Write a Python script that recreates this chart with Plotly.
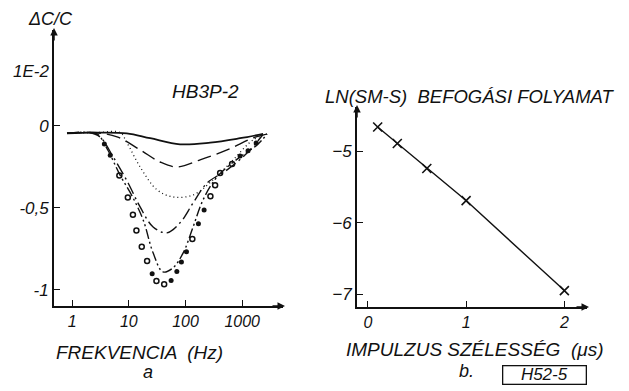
import plotly.graph_objects as go

# ---------------- data: panel a ----------------
solid_f = [0.81, 2.38, 9.2, 23.8, 80, 272, 918, 2340]
solid_v = [-0.045, -0.041, -0.045, -0.075, -0.112, -0.102, -0.075, -0.049]

dash_f = [0.81, 2.35, 6.2, 15.8, 35.6, 71, 181, 542, 1560, 2750]
dash_v = [-0.045, -0.040, -0.067, -0.146, -0.220, -0.250, -0.207, -0.146, -0.073, -0.049]

dot_f = [0.81, 3.0, 7.0, 9.3, 15.8, 31.5, 60, 136, 307, 692, 1560, 2750]
dot_v = [-0.045, -0.040, -0.040, -0.104, -0.250, -0.390, -0.433, -0.421, -0.329, -0.207, -0.085, -0.049]

dashdot_f = [0.81, 2.0, 3.1, 5.3, 9.7, 15.8, 26.8, 47, 80, 136, 240, 542, 1220, 2240]
dashdot_v = [-0.045, -0.040, -0.067, -0.189, -0.348, -0.494, -0.616, -0.652, -0.591, -0.470, -0.348, -0.268, -0.165, -0.060]

dashdot2_f = [0.81, 2.0, 2.8, 4.3, 7.0, 11.4, 17.9, 26.8, 40, 60, 91, 136, 204, 361, 918, 1830, 2750]
dashdot2_v = [-0.045, -0.040, -0.050, -0.150, -0.300, -0.427, -0.573, -0.774, -0.890, -0.866, -0.774, -0.616, -0.451, -0.311, -0.189, -0.116, -0.050]

open_f = [6.8, 9.6, 11.8, 13.6, 16.9, 21, 30.7, 42, 132, 275, 333, 408, 663]
open_v = [-0.303, -0.437, -0.541, -0.638, -0.736, -0.823, -0.945, -0.965, -0.689, -0.429, -0.362, -0.287, -0.232]

filled_f = [3.7, 4.7, 25.8, 55.7, 70.3, 84.7, 104, 169, 213, 918, 1270, 1760]
filled_v = [-0.110, -0.179, -0.902, -0.943, -0.888, -0.829, -0.767, -0.596, -0.512, -0.183, -0.152, -0.104]

a_xticks = [1, 10, 100, 1000]
a_xtick_text = ["1", "10", "100", "1000"]
a_yticks = [0, -0.5, -1]
a_ytick_text = ["0", "-0,5", "-1"]

# ---------------- data: panel b ----------------
width_us = [0.1, 0.3, 0.6, 1.0, 2.0]
ln_vals = [-4.66, -4.89, -5.24, -5.69, -6.95]
b_xticks = [0, 1, 2]
b_yticks = [-5, -6, -7]
b_ytick_text = ["\u22125", "\u22126", "\u22127"]

FONT = "Liberation Sans"
ink = "#111111"

fig = go.Figure()

def line(xs, ys, dash, w=1.4):
    fig.add_trace(go.Scatter(x=xs, y=ys, mode="lines", line=dict(color=ink, width=w, dash=dash, shape="spline", smoothing=1.0),
                             xaxis="x", yaxis="y", showlegend=False, hoverinfo="skip"))

line(solid_f, solid_v, "solid", 1.8)
line(dash_f, dash_v, "14px,6px")
line(dot_f, dot_v, "1px,3px", 1.3)
line(dashdot_f, dashdot_v, "12px,4px,2px,4px")
line(dashdot2_f, dashdot2_v, "10px,3px,2px,3px,2px,3px")

fig.add_trace(go.Scatter(x=open_f, y=open_v, mode="markers", xaxis="x", yaxis="y",
                         marker=dict(symbol="circle-open", size=5, color=ink, line=dict(width=1.5)),
                         showlegend=False, hoverinfo="skip"))
fig.add_trace(go.Scatter(x=filled_f, y=filled_v, mode="markers", xaxis="x", yaxis="y",
                         marker=dict(symbol="circle", size=5, color=ink),
                         showlegend=False, hoverinfo="skip"))

fig.add_trace(go.Scatter(x=width_us, y=ln_vals, mode="lines+markers", xaxis="x2", yaxis="y2",
                         line=dict(color=ink, width=1.4),
                         marker=dict(symbol="x-thin", size=9, color=ink, line=dict(width=1.6, color=ink)),
                         showlegend=False, hoverinfo="skip"))

tick_font = dict(family=FONT, size=16, color=ink, style="italic")
axcommon = dict(showgrid=False, zeroline=False, showline=True, linecolor=ink, linewidth=1.8,
                ticks="inside", ticklen=6, tickwidth=1.3, tickcolor=ink, tickfont=tick_font)

fig.update_layout(
    width=629, height=391, margin=dict(l=0, r=0, t=0, b=0),
    paper_bgcolor="white", plot_bgcolor="white",
    xaxis=dict(domain=[0.0859, 0.4499], type="log", range=[-0.32, 3.72], anchor="y",
               tickvals=a_xticks, ticktext=a_xtick_text, **axcommon),
    yaxis=dict(domain=[0.2174, 0.9233], range=[-1.098, 0.585], anchor="x",
               tickvals=a_yticks, ticktext=a_ytick_text, **axcommon),
    xaxis2=dict(domain=[0.5676, 0.9332], range=[-0.11, 2.23], anchor="y2",
                tickvals=b_xticks, **axcommon),
    yaxis2=dict(domain=[0.2148, 0.7263], range=[-7.18, -4.38], anchor="x2",
                tickvals=b_yticks, ticktext=b_ytick_text, **axcommon),
)
fig.update_xaxes(tickfont=dict(size=16))
fig.update_yaxes(tickfont=dict(size=17))

def txt(s, x, y, size=18, yanchor="middle", **kw):
    fig.add_annotation(text=s, x=x, y=y, xref="paper", yref="paper", showarrow=False,
                       xanchor="center", yanchor=yanchor,
                       font=dict(family=FONT, size=size, color=ink, style="italic"), **kw)

txt("\u0394C/C", 0.081, 0.951, 18)
txt("1E-2", 0.049, 0.816, 17)
txt("HB3P-2", 0.326, 0.765, 19)
txt("FREKVENCIA  (Hz)", 0.221, 0.0997, 19)
txt("a", 0.235, 1 - 360 / 391, 18, yanchor="top")
txt("LN(SM-S)  BEFOG\u00c1SI FOLYAMAT", 0.747, 0.752, 18.5)
txt("IMPULZUS SZ\u00c9LESS\u00c9G  (\u03bcs)", 0.755, 0.107, 19)
txt("b.", 0.742, 1 - 359 / 391, 18, yanchor="top")
txt("H52-5", 0.866, 0.041, 17, bordercolor=ink, borderwidth=1.3, borderpad=0, width=82, height=17)

def arrow(xp, yp, ax, ay):
    fig.add_annotation(x=xp / 629, y=1 - yp / 391, xref="paper", yref="paper", text="",
                       showarrow=True, arrowhead=2, arrowsize=1, arrowwidth=1.5, arrowcolor=ink,
                       ax=ax, ay=ay)

arrow(285, 306, -14, 0)
arrow(54, 28, 0, 14)
arrow(589, 307, -14, 0)
arrow(357, 105, 0, 14)

fig.write_html("out.html", config={"displayModeBar": False},
               post_script="document.body.style.margin='0';document.body.style.padding='0';document.body.style.overflow='hidden';")
